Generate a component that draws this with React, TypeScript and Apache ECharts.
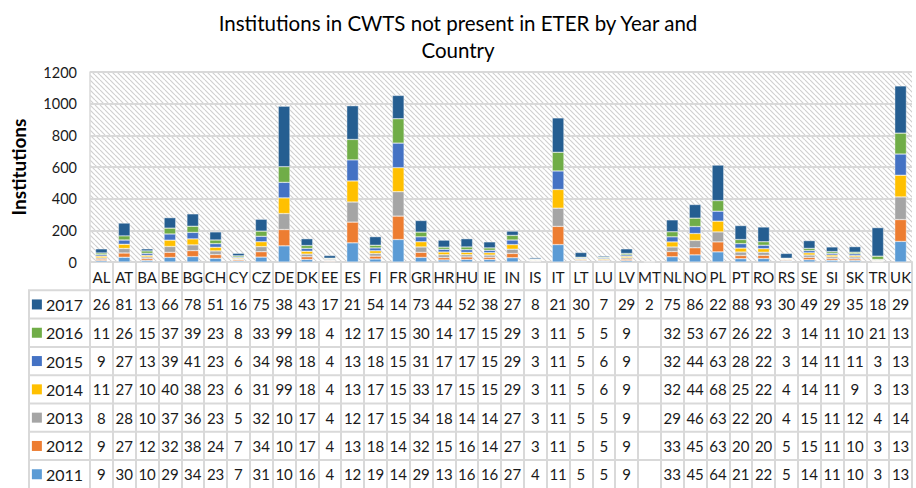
import React, { useEffect, useRef } from 'react';
import * as echarts from 'echarts';

const countries = ['AL', 'AT', 'BA', 'BE', 'BG', 'CH', 'CY', 'CZ', 'DE', 'DK', 'EE', 'ES', 'FI', 'FR', 'GR', 'HR', 'HU', 'IE', 'IN', 'IS', 'IT', 'LT', 'LU', 'LV', 'MT', 'NL', 'NO', 'PL', 'PT', 'RO', 'RS', 'SE', 'SI', 'SK', 'TR', 'UK'];
const years = ['2011', '2012', '2013', '2014', '2015', '2016', '2017'];

const v2011 = [9, 30, 10, 29, 34, 23, 7, 31, 102, 16, 4, 121, 19, 142, 29, 13, 16, 16, 27, 4, 110, 5, 5, 9, null, 33, 45, 64, 21, 22, 5, 14, 11, 10, 3, 130];
const v2012 = [9, 27, 12, 32, 38, 24, 7, 34, 103, 17, 4, 131, 18, 148, 32, 15, 16, 14, 27, 3, 115, 5, 5, 9, null, 33, 45, 63, 20, 20, 5, 15, 11, 10, 3, 138];
const v2013 = [8, 28, 10, 37, 36, 23, 5, 32, 101, 17, 4, 127, 17, 154, 34, 18, 14, 14, 27, 3, 115, 5, 5, 9, null, 29, 46, 63, 22, 20, 4, 15, 11, 12, 4, 143];
const v2014 = [11, 27, 10, 40, 38, 23, 6, 31, 99, 18, 4, 133, 17, 152, 33, 17, 15, 15, 29, 3, 118, 5, 6, 9, null, 32, 44, 68, 25, 22, 4, 14, 11, 9, 3, 137];
const v2015 = [9, 27, 13, 39, 41, 23, 6, 34, 98, 18, 4, 133, 18, 155, 31, 17, 17, 15, 29, 3, 117, 5, 6, 9, null, 32, 44, 63, 28, 22, 3, 14, 11, 11, 3, 134];
const v2016 = [11, 26, 15, 37, 39, 23, 8, 33, 99, 18, 4, 129, 17, 154, 30, 14, 17, 15, 29, 3, 118, 5, 5, 9, null, 32, 53, 67, 26, 22, 3, 14, 11, 10, 21, 132];
const v2017 = [26, 81, 13, 66, 78, 51, 16, 75, 382, 43, 17, 213, 54, 147, 73, 44, 52, 38, 27, 8, 217, 30, 7, 29, 2, 75, 86, 224, 88, 93, 30, 49, 29, 35, 180, 298];

const seriesValues = [v2011, v2012, v2013, v2014, v2015, v2016, v2017];
const colors = ['#5B9BD5', '#ED7D31', '#A5A5A5', '#FFC000', '#4472C4', '#70AD47', '#255E91'];

export default function App() {
  const ref = useRef<HTMLDivElement>(null);
  useEffect(() => {
    const chart = echarts.init(ref.current!, null, { renderer: 'svg' });
    const W = 916, H = 488;
    const left = 90, right = 4, top = 72, bottom = 226;
    const rowH = 28.3;
    const font = 'Lato';
    const txt = '#1a1a1a';
    const lineC = '#d9d9d9';

    const cv = document.createElement('canvas');
    cv.width = 5; cv.height = 5;
    const cx = cv.getContext('2d')!;
    cx.fillStyle = '#ffffff';
    cx.fillRect(0, 0, 5, 5);
    cx.strokeStyle = '#d0d0d0';
    cx.lineWidth = 1.2;
    for (const k of [-5, 0, 5]) {
      cx.beginPath(); cx.moveTo(k, 0); cx.lineTo(k + 5, 5); cx.stroke();
    }

    const series = years.map((y, i) => ({
      name: y, type: 'bar', stack: 'total', data: seriesValues[i], barWidth: '51%',
      itemStyle: { color: colors[i], borderColor: '#ffffff', borderWidth: 0.4 },
      xAxisIndex: 0, yAxisIndex: 0,
    }));

    const order = [6, 5, 4, 3, 2, 1, 0];
    const extraX = order.map((yi, r) => ({
      type: 'category', gridIndex: 0, position: 'bottom',
      offset: rowH * (r + 1) + rowH / 2,
      data: seriesValues[yi].map((v) => (v == null ? '' : String(v).slice(0, 2))),
      axisLine: { show: false }, axisTick: { show: false }, splitLine: { show: false },
      axisLabel: { interval: 0, verticalAlign: 'middle', margin: 0, fontSize: 15, color: txt, fontFamily: font },
      name: `{sw| }{t|${years[yi]}}`, nameLocation: 'start', nameGap: 7,
      nameTextStyle: {
        rich: {
          sw: { width: 10, height: 10, backgroundColor: colors[yi] },
          t: { fontSize: 16, color: txt, fontFamily: font, padding: [0, 0, 0, 4] },
        },
      },
    }));

    const graphics: any[] = [
      {
        type: 'rect', z: -1, silent: true,
        shape: { x: left, y: top, width: W - left - right, height: H - top - bottom },
        style: { fill: { image: cv, repeat: 'repeat' } },
      },
      {
        type: 'line', silent: true,
        shape: { x1: 29, y1: H - bottom + rowH, x2: 29, y2: H },
        style: { stroke: lineC, lineWidth: 2 },
      },
    ];
    for (let r = 0; r < 7; r++) {
      const y = H - bottom + rowH * (r + 1);
      graphics.push({
        type: 'line', silent: true,
        shape: { x1: 28, y1: y, x2: W - right + 1, y2: y },
        style: { stroke: lineC, lineWidth: 2 },
      });
    }

    chart.setOption({
      animation: false,
      textStyle: { fontFamily: font },
      title: {
        text: 'Institutions in CWTS not present in ETER by Year and\nCountry',
        left: 'center', top: 4,
        textStyle: { fontSize: 20.5, fontWeight: 'normal', color: '#000', lineHeight: 27, fontFamily: font },
      },
      grid: { left, right, top, bottom },
      xAxis: [
        {
          type: 'category', data: countries, gridIndex: 0, position: 'bottom',
          axisLine: { show: true, lineStyle: { color: lineC, width: 2 } },
          axisTick: { show: true, interval: 0, length: bottom, lineStyle: { color: lineC, width: 2 } },
          axisLabel: { interval: 0, verticalAlign: 'middle', margin: 15, fontSize: 15, color: txt, fontFamily: font },
        },
        ...extraX,
      ],
      yAxis: {
        type: 'value', min: 0, max: 1200, interval: 200,
        name: 'Institutions', nameLocation: 'middle', nameGap: 62,
        nameTextStyle: { fontSize: 19, fontWeight: 'bold', color: '#000', fontFamily: font },
        axisLine: { show: true, lineStyle: { color: lineC, width: 1.5 } },
        axisTick: { show: false },
        axisLabel: { fontSize: 14.5, color: txt, margin: 13, fontFamily: font, formatter: (v: number) => String(v) },
        splitLine: { lineStyle: { color: lineC, width: 2 } },
      },
      graphic: graphics,
      series,
    } as any);
    return () => chart.dispose();
  }, []);
  return <div ref={ref} style={{ position: 'absolute', left: 0, top: 0, width: 916, height: 488 }} />;
}
